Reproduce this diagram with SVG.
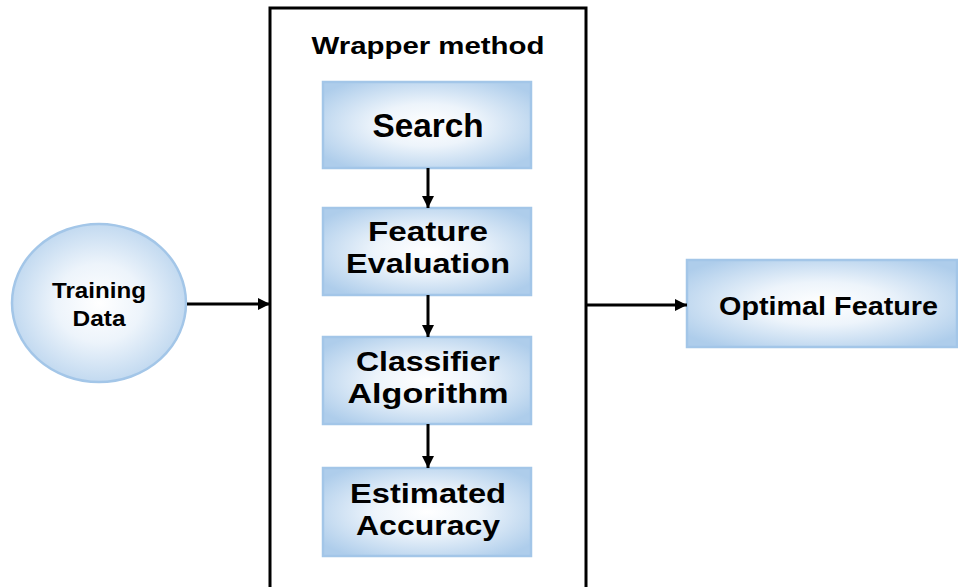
<svg xmlns="http://www.w3.org/2000/svg" width="958" height="587" viewBox="0 0 958 587">
<defs>
<radialGradient id="g" cx="50%" cy="50%" r="62%">
<stop offset="0" stop-color="#ffffff"/>
<stop offset="0.4" stop-color="#edf4fb"/>
<stop offset="1" stop-color="#aecdeb"/>
</radialGradient>
<marker id="ah" viewBox="0 0 10 10" refX="10" refY="5" markerWidth="4" markerHeight="4" orient="auto" markerUnits="strokeWidth">
<path d="M0,0 L10,5 L0,10 z" fill="#000"/>
</marker>
<style>
.bx{fill:url(#g);stroke:#a3c6e8;stroke-width:2.5}
.t{font-family:"Liberation Sans",Arial,sans-serif;font-weight:bold;fill:#000;text-anchor:middle}
.big{font-size:28px}
.ln{stroke:#000;stroke-width:3;fill:none;marker-end:url(#ah)}
</style>
</defs>
<rect x="0" y="0" width="958" height="587" fill="#fff"/>
<g id="wrapper">
<rect x="270" y="8" width="316" height="590" fill="none" stroke="#000" stroke-width="3"/>
<text class="t" x="428" y="54" font-size="23" textLength="233" lengthAdjust="spacingAndGlyphs">Wrapper method</text>
</g>
<g id="training">
<ellipse cx="99" cy="303" rx="87" ry="79" class="bx"/>
<text class="t" x="99" y="298" font-size="22" textLength="94" lengthAdjust="spacingAndGlyphs">Training</text>
<text class="t" x="99" y="326" font-size="22" textLength="53" lengthAdjust="spacingAndGlyphs">Data</text>
</g>
<g id="search">
<rect x="323" y="82" width="208" height="86" class="bx"/>
<text class="t" x="428" y="137" font-size="33" textLength="111" lengthAdjust="spacingAndGlyphs">Search</text>
</g>
<g id="featureeval">
<rect x="323" y="208" width="208" height="87" class="bx"/>
<text class="t big" x="428" y="241" textLength="120" lengthAdjust="spacingAndGlyphs">Feature</text>
<text class="t big" x="428" y="273" textLength="164" lengthAdjust="spacingAndGlyphs">Evaluation</text>
</g>
<g id="classifier">
<rect x="323" y="337" width="208" height="87" class="bx"/>
<text class="t big" x="428" y="371" textLength="144" lengthAdjust="spacingAndGlyphs">Classifier</text>
<text class="t big" x="428" y="403" textLength="161" lengthAdjust="spacingAndGlyphs">Algorithm</text>
</g>
<g id="estimated">
<rect x="323" y="468" width="208" height="88" class="bx"/>
<text class="t big" x="428" y="503" textLength="156" lengthAdjust="spacingAndGlyphs">Estimated</text>
<text class="t big" x="428" y="535" textLength="144" lengthAdjust="spacingAndGlyphs">Accuracy</text>
</g>
<g id="optimal">
<rect x="687" y="260" width="270" height="87" class="bx"/>
<text class="t" x="828.5" y="315" font-size="25" textLength="219" lengthAdjust="spacingAndGlyphs">Optimal Feature</text>
</g>
<g id="connectors">
<line x1="187" y1="304" x2="270" y2="304" class="ln"/>
<line x1="586" y1="305" x2="687" y2="305" class="ln"/>
<line x1="428" y1="168" x2="428" y2="208" class="ln"/>
<line x1="428" y1="295" x2="428" y2="337" class="ln"/>
<line x1="428" y1="424" x2="428" y2="468" class="ln"/>
</g>
</svg>
